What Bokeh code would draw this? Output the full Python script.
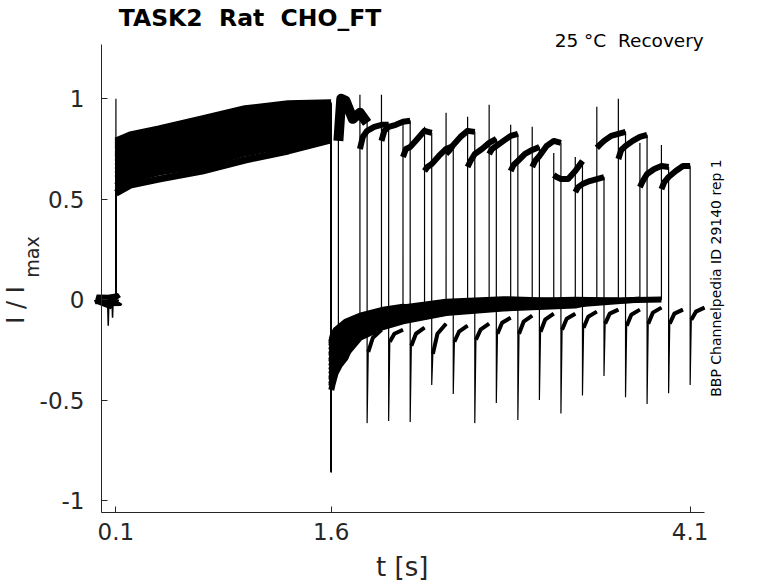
from bokeh.plotting import figure
from bokeh.models import Range1d, FixedTicker, Label, ColumnDataSource
from bokeh.embed import file_html
from bokeh.resources import INLINE

# ---------------- data ----------------
# holding before the conditioning pulse (shared by all sweeps)
pre_t = [0.0, 0.01, 0.02, 0.03, 0.04, 0.05, 0.06, 0.07, 0.08, 0.09, 0.0995]
pre_v = [0.01, -0.01, 0.015, -0.015, -0.01, 0.01, -0.015, 0.01, 0.0, -0.01, 0.0]
dip_t = [[0.043, 0.047, 0.051], [0.074, 0.077, 0.080]]
dip_v = [[-0.02, -0.13, -0.02], [-0.02, -0.09, -0.02]]

# conditioning pulse 0.1 .. 1.6 s
cond_t = [0.1005, 0.2, 0.4, 0.7, 1.0, 1.3, 1.5995]
cond_v = [
    [0.79, 0.82, 0.85, 0.90, 0.95, 0.975, 0.98],
    [0.78, 0.81, 0.84, 0.89, 0.94, 0.965, 0.975],
    [0.77, 0.80, 0.83, 0.88, 0.93, 0.955, 0.97],
    [0.76, 0.79, 0.82, 0.87, 0.92, 0.945, 0.96],
    [0.75, 0.78, 0.81, 0.86, 0.91, 0.935, 0.95],
    [0.74, 0.77, 0.80, 0.85, 0.90, 0.925, 0.94],
    [0.72, 0.75, 0.785, 0.835, 0.885, 0.91, 0.93],
    [0.71, 0.74, 0.775, 0.825, 0.875, 0.90, 0.92],
    [0.70, 0.73, 0.765, 0.81, 0.86, 0.89, 0.91],
    [0.68, 0.71, 0.745, 0.79, 0.84, 0.875, 0.90],
    [0.66, 0.69, 0.725, 0.77, 0.82, 0.86, 0.89],
    [0.64, 0.67, 0.70, 0.745, 0.80, 0.84, 0.87],
    [0.62, 0.65, 0.68, 0.72, 0.78, 0.82, 0.855],
    [0.60, 0.63, 0.66, 0.70, 0.76, 0.80, 0.835],
    [0.565, 0.60, 0.635, 0.67, 0.73, 0.77, 0.815],
    [0.53, 0.57, 0.60, 0.64, 0.695, 0.74, 0.795],
]
cond_spike = [1.0, 0.78, 0.77, 0.76, 0.75, 0.74, 0.72, 0.71, 0.70, 0.68, 0.66, 0.64, 0.62, 0.60, 0.565, 0.53]
step_t = 1.6
step_min = [-0.86, -0.85, -0.84, -0.86, -0.83, -0.85, -0.84, -0.86,
            -0.85, -0.83, -0.84, -0.85, -0.86, -0.84, -0.85, -0.83]

# recovery at holding potential after 1.6 s
hold_t = [1.6005, 1.61, 1.63, 1.66, 1.7, 1.8, 1.95, 2.1, 2.4, 2.8, 3.3, 3.9]
hold_mid = [-0.33, -0.30, -0.26, -0.23, -0.20, -0.14, -0.10, -0.075, -0.04, -0.022, -0.012, -0.005]
hold_env = [1.0, 1.0, 0.9, 0.8, 0.75, 0.5, 0.4, 0.33, 0.27, 0.22, 0.18, 0.12]
hold_dev = [0.10, -0.12, 0.05, -0.06, 0.12, -0.02, 0.08, -0.09,
            0.0, 0.03, -0.04, 0.11, -0.10, 0.06, -0.07, 0.02]

# test pulses
test_on = [1.65, 1.80, 1.95, 2.10, 2.25, 2.40, 2.55, 2.70,
           2.85, 3.00, 3.15, 3.30, 3.45, 3.60, 3.75, 3.90]
test_off = [1.85, 2.00, 2.15, 2.30, 2.45, 2.60, 2.75, 2.90,
            3.05, 3.20, 3.35, 3.50, 3.65, 3.80, 3.95, 4.10]
pre_on = [-0.20, -0.12, -0.09, -0.07, -0.05, -0.04, -0.03, -0.025,
          -0.02, -0.015, -0.01, -0.01, -0.005, -0.005, 0.0, 0.0]
test_spike = [0.98, 1.02, 1.02, 0.88, 0.86, 0.93, 0.91, 0.97,
              0.87, 0.86, 0.73, 0.71, 0.96, 1.00, 0.78, 0.77]
test_rel = [0.0, 0.02, 0.05, 0.10, 0.15, 0.2]
test_v = [
    [0.79, 1.00, 0.99, 0.90, 0.93, 0.88],
    [0.75, 0.81, 0.84, 0.86, 0.87, 0.87],
    [0.79, 0.84, 0.86, 0.87, 0.885, 0.89],
    [0.71, 0.75, 0.76, 0.80, 0.84, 0.83],
    [0.64, 0.66, 0.675, 0.715, 0.75, 0.765],
    [0.725, 0.74, 0.77, 0.81, 0.84, 0.835],
    [0.66, 0.69, 0.725, 0.75, 0.78, 0.80],
    [0.725, 0.75, 0.765, 0.79, 0.815, 0.825],
    [0.64, 0.67, 0.69, 0.725, 0.745, 0.76],
    [0.66, 0.69, 0.715, 0.765, 0.79, 0.78],
    [0.62, 0.61, 0.60, 0.60, 0.64, 0.69],
    [0.535, 0.56, 0.575, 0.59, 0.60, 0.61],
    [0.755, 0.77, 0.79, 0.815, 0.825, 0.835],
    [0.70, 0.745, 0.765, 0.79, 0.81, 0.82],
    [0.56, 0.59, 0.625, 0.65, 0.665, 0.66],
    [0.55, 0.585, 0.61, 0.64, 0.665, 0.665],
]
test_noise_w = [10, 6, 6, 6, 6, 6, 6, 6, 6, 6, 6, 6, 6, 6, 6, 6]
# tail currents after each test pulse
tail_min = [-0.615, -0.605, -0.61, -0.425, -0.47, -0.615, -0.515, -0.60,
            -0.50, -0.567, -0.478, -0.38, -0.486, -0.52, -0.466, -0.425]
tail_rel = [0.008, 0.04, 0.1]
tail_v = [
    [-0.26, -0.19, -0.15], [-0.21, -0.17, -0.15], [-0.23, -0.17, -0.14],
    [-0.27, -0.17, -0.12], [-0.21, -0.16, -0.13], [-0.20, -0.15, -0.12],
    [-0.17, -0.115, -0.09], [-0.17, -0.11, -0.08], [-0.16, -0.10, -0.07],
    [-0.15, -0.095, -0.07], [-0.14, -0.085, -0.06], [-0.12, -0.07, -0.05],
    [-0.13, -0.075, -0.05], [-0.12, -0.065, -0.04], [-0.12, -0.07, -0.05],
    [-0.10, -0.06, -0.04],
]

x_ticks = [0.1, 1.6, 4.1]
y_ticks = [-1, -0.5, 0, 0.5, 1]
y_tick_labels = ["-1", "-0.5", "0", "0.5", "1"]

# ---------------- build traces ----------------
thin_x, thin_y = [], []
cond_x, cond_y = [], []
hold_x, hold_y = [], []
test_x, test_y = [], []
tail_x, tail_y = [], []
for k in range(len(test_on)):
    on, off = test_on[k], test_off[k]
    hx = [t for t in hold_t if t < on] + [on]
    hy = [hold_mid[i] + hold_dev[k] * hold_env[i] for i, t in enumerate(hold_t) if t < on] + [pre_on[k]]
    tx = [on + r for r in test_rel]
    ty = list(test_v[k])
    ax = [off + r for r in tail_rel]
    ay = list(tail_v[k])
    x = list(pre_t) + [cond_t[0]] + list(cond_t) + [step_t] + hx + [on] + tx + [off] + ax
    y = list(pre_v) + [cond_spike[k]] + list(cond_v[k]) + [step_min[k]] + hy + [test_spike[k]] + ty + [tail_min[k]] + ay
    thin_x.append(x); thin_y.append(y)
    cond_x.append(list(cond_t)); cond_y.append(list(cond_v[k]))
    hold_x.append(hx); hold_y.append(hy)
    test_x.append(tx); test_y.append(ty)
    tail_x.append(ax); tail_y.append(ay)

# ---------------- figure: frame fills the canvas, axes fixed inside ----------------
X0, X1 = -0.70348, 4.71542
Y0, Y1 = -1.41348, 1.48906
p = figure(frame_width=778, frame_height=583, min_border=0, title=None,
           x_range=Range1d(X0, X1), y_range=Range1d(Y0, Y1),
           output_backend="svg", toolbar_location=None)
p.outline_line_color = None
p.xgrid.visible = False
p.ygrid.visible = False
p.background_fill_color = "white"
p.border_fill_color = "white"

ink = "#000000"
p.line(pre_t, pre_v, line_color=ink, line_width=16)
for dx, dy in zip(dip_t, dip_v):
    p.line(dx, dy, line_color=ink, line_width=1.5)
p.multi_line(cond_x, cond_y, line_color=ink, line_width=7, line_join="round")
p.multi_line(hold_x, hold_y, line_color=ink, line_width=6, line_join="round")
p.multi_line(xs="xs", ys="ys", line_width="w", line_color=ink, line_join="round",
             source=ColumnDataSource(dict(xs=test_x, ys=test_y, w=test_noise_w)))
p.multi_line(tail_x, tail_y, line_color=ink, line_width=4, line_join="round")
p.multi_line(thin_x, thin_y, line_color=ink, line_width=1.2)

axc = "#262626"
for ax in (p.xaxis[0], p.yaxis[0]):
    ax.axis_line_color = axc
    ax.axis_line_width = 1
    ax.major_tick_line_color = axc
    ax.major_tick_in = 6
    ax.major_tick_out = 0
    ax.minor_tick_line_color = None
    ax.major_label_text_font = "DejaVu Sans"
    ax.major_label_text_font_size = "23px"
    ax.major_label_text_color = axc
p.xaxis.fixed_location = -1.06
p.xaxis.bounds = (0, 4.2)
p.xaxis.ticker = FixedTicker(ticks=x_ticks)
p.xaxis.major_label_overrides = {t: str(t) for t in x_ticks}
p.xaxis.major_label_standoff = 10
p.yaxis.fixed_location = 0
p.yaxis.bounds = (-1.06, 1.27)
p.yaxis.ticker = FixedTicker(ticks=y_ticks)
p.yaxis.major_label_overrides = {t: s for t, s in zip(y_ticks, y_tick_labels)}
p.yaxis.major_label_standoff = 17

def lab(x, y, text, size, align="left", angle=0, bold=False, color=axc):
    p.add_layout(Label(x=x, y=y, text=text, text_font="DejaVu Sans",
                       text_font_size=size, text_align=align, text_baseline="alphabetic",
                       angle=angle, text_color=color,
                       text_font_style="bold" if bold else "normal"))

NB = "\u00a0"
lab(0.1205, 1.4009, "TASK2" + NB + " Rat" + NB + " CHO_FT", "23.5px", bold=True, color="#000000")
lab(4.1951, 1.2875, "25 °C" + NB + " Recovery", "18.5px", align="right", color="#000000")
lab(4.2801, 0.1075, "BBP Channelpedia ID 29140 rep 1", "14px", align="center", angle=1.5708, color="#000000")
lab(2.0944, -1.3313, "t [s]", "26px", align="center")
lab(-0.5921, -0.027, "I / I", "24px", align="center", angle=1.5708)
lab(-0.4855, 0.212, "max", "19px", align="center", angle=1.5708)

open("out.html", "w").write(file_html(p, INLINE))
